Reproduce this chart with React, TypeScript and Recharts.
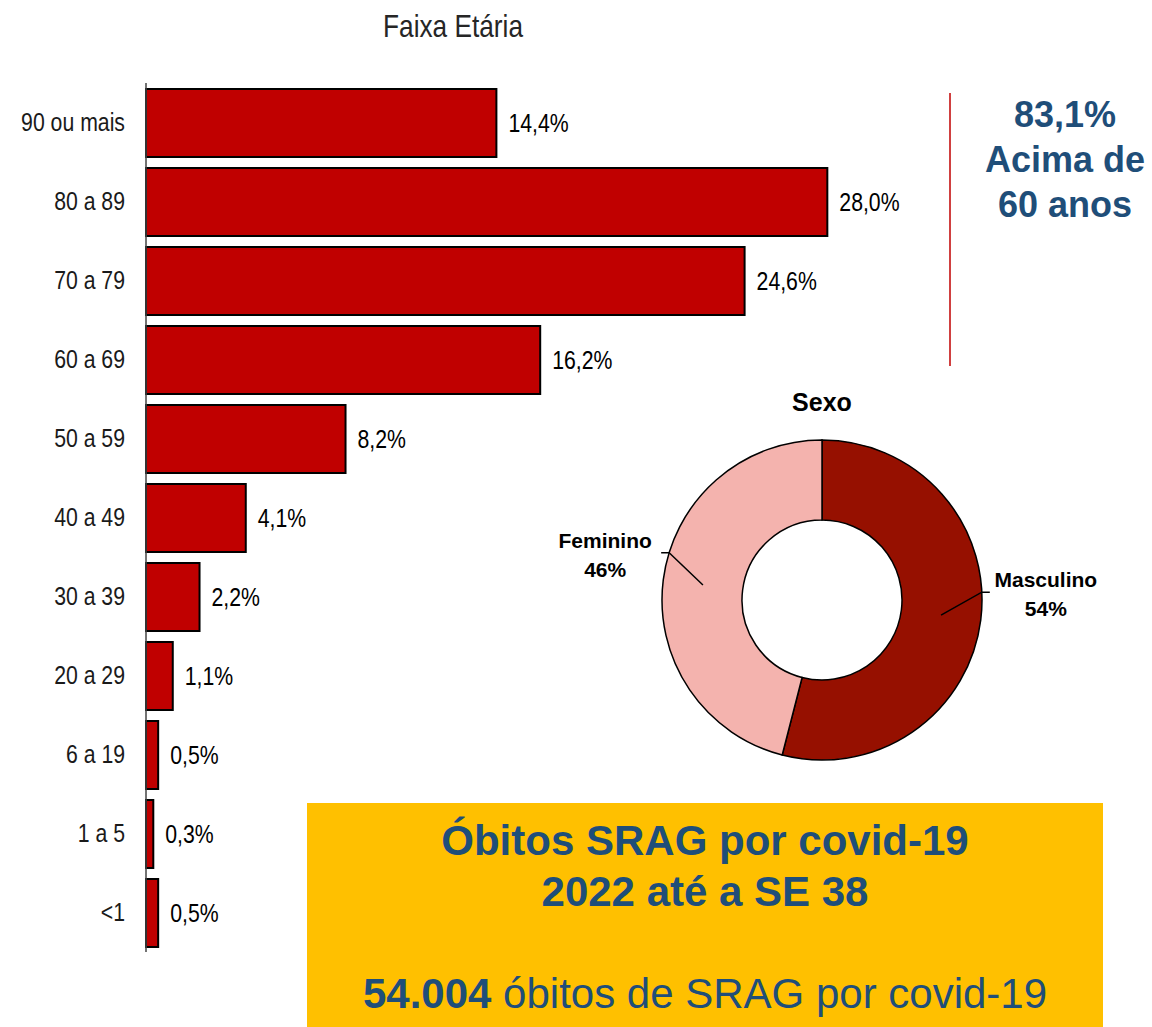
import React from "react";
import { BarChart, Bar, XAxis, YAxis, LabelList, PieChart, Pie, Cell } from "recharts";

// Faixa etária (de cima para baixo) e % dos óbitos
const ageGroups = ["90 ou mais", "80 a 89", "70 a 79", "60 a 69", "50 a 59", "40 a 49", "30 a 39", "20 a 29", "6 a 19", "1 a 5", "<1"];
const ageShares = [14.4, 28.0, 24.6, 16.2, 8.2, 4.1, 2.2, 1.1, 0.5, 0.3, 0.5];

// Sexo
const sexNames = ["Masculino", "Feminino"];
const sexShares = [54, 46];
const sexColors = ["#961000", "#F4B3AE"];

const ageData = ageGroups.map((g, i) => ({ group: g, share: ageShares[i] }));
const sexData = sexNames.map((n, i) => ({ name: n, value: sexShares[i] }));

const ARIAL = "'Liberation Sans', Arial, sans-serif";
const BLUE = "#1F4E79";
const RADIAN = Math.PI / 180;

function fmtPct(v: number) {
  return v.toFixed(1).replace(".", ",") + "%";
}

// texto "estreito" (tipo Calibri condensado) via escala horizontal
function NarrowText({ x, y, anchor, size, fill, children }: any) {
  return (
    <text
      transform={`translate(${x} ${y}) scale(0.85 1)`}
      textAnchor={anchor}
      dominantBaseline="central"
      fontFamily={ARIAL}
      fontSize={size}
      fill={fill}
    >
      {children}
    </text>
  );
}

function AgeTick(props: any) {
  const { x, y, payload } = props;
  return (
    <NarrowText x={x} y={y} anchor="end" size={25} fill="#1a1a1a">
      {payload.value}
    </NarrowText>
  );
}

function ShareLabel(props: any) {
  const { x, y, width, height, value } = props;
  return (
    <NarrowText x={x + width + 12} y={y + height / 2} anchor="start" size={25} fill="#000">
      {fmtPct(Number(value))}
    </NarrowText>
  );
}

function SexLabel(props: any) {
  const { cx, cy, midAngle, innerRadius, outerRadius, name, value } = props;
  const rMid = (innerRadius + outerRadius) / 2;
  const sx = cx + rMid * Math.cos(-midAngle * RADIAN);
  const sy = cy + rMid * Math.sin(-midAngle * RADIAN);
  const side = Math.cos(-midAngle * RADIAN) >= 0 ? 1 : -1;
  const ea = midAngle + side * 10;
  const ex = cx + outerRadius * Math.cos(-ea * RADIAN);
  const ey = cy + outerRadius * Math.sin(-ea * RADIAN);
  const hx = ex + side * 8;
  const tx = ex + side * 64;
  return (
    <g>
      <polyline points={`${sx},${sy} ${ex},${ey} ${hx},${ey}`} fill="none" stroke="#000" strokeWidth={1.5} />
      <text x={tx} y={ey - 5} textAnchor="middle" fontFamily={ARIAL} fontWeight="bold" fontSize={21} fill="#000">
        {name}
      </text>
      <text x={tx} y={ey + 24} textAnchor="middle" fontFamily={ARIAL} fontWeight="bold" fontSize={21} fill="#000">
        {value}%
      </text>
    </g>
  );
}

export default function App() {
  return (
    <div style={{ position: "absolute", left: 0, top: 0, width: 1152, height: 1027, background: "#fff", overflow: "hidden" }}>
      <svg width={1152} height={1027} style={{ position: "absolute", left: 0, top: 0 }}>
        <text
          transform="translate(453 37) scale(0.82 1)"
          textAnchor="middle"
          fontFamily={ARIAL}
          fontSize={32}
          fill="#262626"
        >
          Faixa Etária
        </text>
        <line x1={950} y1={93} x2={950} y2={366} stroke="#C00000" strokeWidth={1.5} />
        <g fontFamily={ARIAL} fontWeight="bold" fontSize={36} fill={BLUE} textAnchor="middle">
          <text x={1065} y={127}>83,1%</text>
          <text x={1065} y={172}>Acima de</text>
          <text x={1065} y={217}>60 anos</text>
        </g>
        <rect x={307} y={803} width={796} height={224} fill="#FFC000" />
        <g fontFamily={ARIAL} fontSize={42} fill={BLUE} textAnchor="middle">
          <text x={705} y={855} fontWeight="bold">Óbitos SRAG por covid-19</text>
          <text x={705} y={906} fontWeight="bold">2022 até a SE 38</text>
          <text x={705} y={1008}>
            <tspan fontWeight="bold">54.004</tspan> óbitos de SRAG por covid-19
          </text>
        </g>
      </svg>

      <div style={{ position: "absolute", left: 0, top: 0 }}>
        <BarChart
          width={1152}
          height={1027}
          data={ageData}
          layout="vertical"
          margin={{ top: 83, right: 276, bottom: 75, left: 0 }}
          barCategoryGap={10}
        >
          <XAxis type="number" domain={[0, 30]} hide />
          <YAxis
            type="category"
            dataKey="group"
            width={146}
            axisLine={{ stroke: "#444", strokeWidth: 1.5 }}
            tickLine={false}
            tickMargin={15}
            interval={0}
            tick={AgeTick}
          />
          <Bar dataKey="share" fill="#C00000" stroke="#000" strokeWidth={2} barSize={68} isAnimationActive={false}>
            <LabelList dataKey="share" content={ShareLabel} />
          </Bar>
        </BarChart>
      </div>

      <div style={{ position: "absolute", left: 500, top: 370 }}>
        <PieChart width={652} height={420} margin={{ top: 0, right: 0, bottom: 0, left: 0 }}>
          <text x={322} y={41} textAnchor="middle" fontFamily={ARIAL} fontWeight="bold" fontSize={25} fill="#000">
            Sexo
          </text>
          <Pie
            data={sexData}
            dataKey="value"
            nameKey="name"
            cx={322}
            cy={230}
            innerRadius={80}
            outerRadius={160}
            startAngle={90}
            endAngle={-270}
            stroke="#000"
            strokeWidth={1.5}
            label={SexLabel}
            labelLine={false}
            isAnimationActive={false}
          >
            {sexData.map((d, i) => (
              <Cell key={d.name} fill={sexColors[i]} />
            ))}
          </Pie>
        </PieChart>
      </div>
    </div>
  );
}
